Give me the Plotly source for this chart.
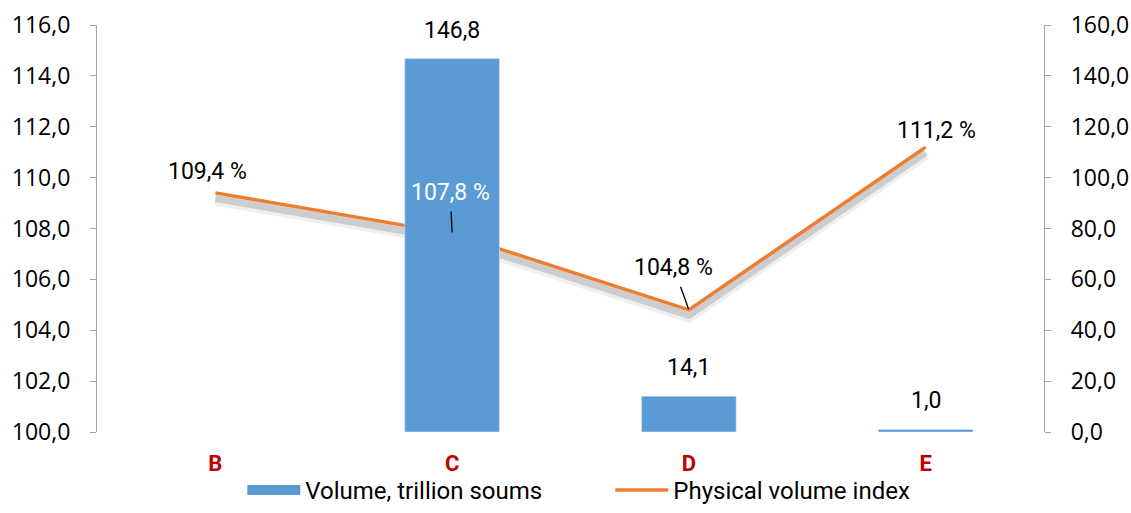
import plotly.graph_objects as go

categories = ["B", "C", "D", "E"]
volume = [None, 146.8, 14.1, 1.0]
index_vals = [109.4, 107.8, 104.8, 111.2]
left_ticks = [100, 102, 104, 106, 108, 110, 112, 114, 116]
right_ticks = [0, 20, 40, 60, 80, 100, 120, 140, 160]

BLUE = "#5B9BD5"
ORANGE = "#ED7D31"
FONT = "Roboto"
TICKFONT = "Open Sans"

def fmt(v):
    return f"{v:.1f}".replace(".", ",")

fig = go.Figure()

fig.add_trace(go.Bar(
    x=categories, y=volume, name="Volume, trillion soums",
    marker_color=BLUE, yaxis="y2", showlegend=False, legendgroup="vol",
))
# legend entry for bars drawn as a wide block
fig.add_trace(go.Scatter(
    x=[None], y=[None], mode="lines", name="Volume, trillion soums",
    line=dict(color=BLUE, width=16), legendgroup="vol", yaxis="y2",
    hoverinfo="skip",
))

# soft shadow beneath the line (two layers for a blur effect)
for w, a, off in [(12, 0.07, 0.26), (7, 0.16, 0.22)]:
    fig.add_trace(go.Scatter(
        x=categories, y=[v - off for v in index_vals], mode="lines",
        line=dict(color=f"rgba(30,30,40,{a})", width=w), showlegend=False,
        hoverinfo="skip", yaxis="y",
    ))
fig.add_trace(go.Scatter(
    x=categories, y=index_vals, mode="lines", name="Physical volume index",
    line=dict(color=ORANGE, width=3.5), yaxis="y",
))

# bar value labels
for c, v in zip(categories, volume):
    if v is None:
        continue
    fig.add_annotation(x=c, y=v, xref="x", yref="y2", text=fmt(v),
                       showarrow=False, yanchor="bottom", yshift=13,
                       font=dict(family=FONT, size=23, color="#000"))

ann_cfg = [
    dict(showarrow=False, xshift=-8, yshift=21, color="#000"),
    dict(showarrow=True, ax=-2, ay=-41, color="#fff"),
    dict(showarrow=True, ax=-15, ay=-42, color="#000"),
    dict(showarrow=False, xshift=11, yshift=17, color="#000"),
]
for c, v, cfg in zip(categories, index_vals, ann_cfg):
    a = dict(x=c, y=v, xref="x", yref="y", text=fmt(v) + " %",
             font=dict(family=FONT, size=23, color=cfg["color"]))
    if cfg["showarrow"]:
        a.update(showarrow=True, arrowhead=0, arrowwidth=1.3, arrowcolor="#000",
                 ax=cfg["ax"], ay=cfg["ay"], standoff=1, startstandoff=4)
    else:
        a.update(showarrow=False, xshift=cfg["xshift"], yshift=cfg["yshift"])
    fig.add_annotation(**a)

fig.update_layout(
    width=1131, height=513,
    margin=dict(l=97, r=87, t=25, b=81),
    plot_bgcolor="white", paper_bgcolor="white",
    separators=", ",
    bargap=0.6,
    font=dict(family=FONT, size=20, color="#000"),
    xaxis=dict(
        tickfont=dict(family=FONT, size=22, color="#C00000", weight="bold"),
        showline=False, showgrid=False, ticks="", ticklabelstandoff=16,
        automargin=False,
    ),
    yaxis=dict(
        range=[100, 116], tickvals=left_ticks, tickformat=".1f",
        showline=True, linecolor="#A6A6A6", linewidth=1.2,
        ticks="outside", ticklen=6, tickcolor="#A6A6A6",
        showgrid=False, zeroline=False, automargin=False, ticklabelstandoff=15,
        tickfont=dict(family=TICKFONT, size=23, color="#000"),
    ),
    yaxis2=dict(
        range=[0, 160], tickvals=right_ticks, tickformat=".1f",
        overlaying="y", side="right",
        showline=True, linecolor="#A6A6A6", linewidth=1.2,
        ticks="outside", ticklen=6, tickcolor="#A6A6A6",
        showgrid=False, zeroline=False, automargin=False, ticklabelstandoff=15,
        tickfont=dict(family=TICKFONT, size=23, color="#000"),
    ),
    legend=dict(
        orientation="h", x=0.542, xanchor="center",
        y=-0.012, yref="container", yanchor="bottom",
        font=dict(family=FONT, size=24, color="#000"),
        traceorder="normal", itemwidth=53, entrywidth=300,
        bgcolor="rgba(0,0,0,0)",
    ),
)

fig.write_html("out.html", config={"displayModeBar": False},
               post_script="document.body.style.margin='0';")
